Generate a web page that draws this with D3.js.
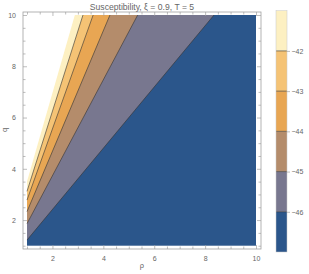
<!DOCTYPE html>
<html>
<head>
<meta charset="utf-8">
<script src="https://cdn.jsdelivr.net/npm/d3@7"></script>
<style>
  body { margin: 0; background: #fff; }
  text { font-family: "Liberation Sans", Arial, sans-serif; fill: #666; }
</style>
</head>
<body>
<div id="chart"></div>
<script>
// ---------- data ----------
var titleText = "Susceptibility, \u03BE = 0.9, T = 5";
var xLabel = "\u03C1";
var yLabel = "q";

// contour levels and where each boundary meets the left edge (p = 1) and the top edge (q = 10)
var levels = [-46, -45, -44, -43, -42, -41];
var qAtLeft = [1.22, 1.86, 2.33, 2.78, 3.12, 3.5];
var pAtTop = [8.35, 5.35, 4.26, 3.6, 3.2, 2.88];

// band colours from lowest value up; last one is the region above the top level
var bandColors = ["#2b568b", "#78778f", "#b48c6b", "#e8a653", "#f5c375", "#fdf0c2", "#ffffff"];
var colorbarEdges = [-47, -46, -45, -44, -43, -42, -41];

var majorTicks = [2, 4, 6, 8, 10];
var minorTicks = [1, 1.5, 2.5, 3, 3.5, 4.5, 5, 5.5, 6.5, 7, 7.5, 8.5, 9, 9.5];
var colorbarTicks = [-46, -45, -44, -43, -42];

// ---------- layout ----------
var svgWidth = 309, svgHeight = 274;
var frame = { left: 23, right: 261, top: 12, bottom: 249 };

var svg = d3.select("#chart").append("svg")
    .attr("width", svgWidth)
    .attr("height", svgHeight);

var x = d3.scaleLinear().domain([1, 10]).range([27, 256]);
var y = d3.scaleLinear().domain([1, 10]).range([245.7, 15]);

// ---------- contour bands ----------
var plot = svg.append("g");

plot.append("rect")
    .attr("x", x(1)).attr("y", y(10))
    .attr("width", x(10) - x(1)).attr("height", y(1) - y(10))
    .attr("fill", bandColors[0]);

var line = d3.line().x(d => x(d[0])).y(d => y(d[1]));

levels.forEach(function(lv, i) {
    var pts = [[1, qAtLeft[i]], [pAtTop[i], 10], [1, 10]];
    plot.append("path")
        .attr("d", line(pts) + "Z")
        .attr("fill", bandColors[i + 1]);
});

// contour lines (not on the outer white edge)
levels.slice(0, 5).forEach(function(lv, i) {
    plot.append("path")
        .attr("d", line([[1, qAtLeft[i]], [pAtTop[i], 10]]))
        .attr("fill", "none")
        .attr("stroke", "#333")
        .attr("stroke-opacity", 0.75)
        .attr("stroke-width", 0.8);
});

// ---------- frame and ticks ----------
svg.append("rect")
    .attr("x", frame.left).attr("y", frame.top)
    .attr("width", frame.right - frame.left).attr("height", frame.bottom - frame.top)
    .attr("fill", "none").attr("stroke", "#a0a0a0").attr("stroke-width", 0.8);

function styleAxis(g) {
    g.select(".domain").remove();
    g.selectAll("line").attr("stroke", "#a0a0a0").attr("stroke-width", 0.7);
    g.selectAll("text").attr("font-size", 7).attr("fill", "#7a7a7a").attr("font-family", "Liberation Sans, Arial, sans-serif");
}

svg.append("g").attr("transform", `translate(0,${frame.bottom})`)
    .call(d3.axisBottom(x).tickValues(majorTicks).tickSize(-4).tickPadding(7).tickFormat(d3.format("d")))
    .call(styleAxis);
svg.append("g").attr("transform", `translate(0,${frame.bottom})`)
    .call(d3.axisBottom(x).tickValues(minorTicks).tickSize(-2.5).tickFormat(""))
    .call(styleAxis);
svg.append("g").attr("transform", `translate(0,${frame.top})`)
    .call(d3.axisTop(x).tickValues(majorTicks).tickSize(-4).tickFormat(""))
    .call(styleAxis);
svg.append("g").attr("transform", `translate(0,${frame.top})`)
    .call(d3.axisTop(x).tickValues(minorTicks).tickSize(-2.5).tickFormat(""))
    .call(styleAxis);

svg.append("g").attr("transform", `translate(${frame.left},0)`)
    .call(d3.axisLeft(y).tickValues(majorTicks).tickSize(-4).tickPadding(7).tickFormat(d3.format("d")))
    .call(styleAxis);
svg.append("g").attr("transform", `translate(${frame.left},0)`)
    .call(d3.axisLeft(y).tickValues(minorTicks).tickSize(-2.5).tickFormat(""))
    .call(styleAxis);
svg.append("g").attr("transform", `translate(${frame.right},0)`)
    .call(d3.axisRight(y).tickValues(majorTicks).tickSize(-4).tickFormat(""))
    .call(styleAxis);
svg.append("g").attr("transform", `translate(${frame.right},0)`)
    .call(d3.axisRight(y).tickValues(minorTicks).tickSize(-2.5).tickFormat(""))
    .call(styleAxis);

// ---------- labels ----------
svg.append("text")
    .attr("x", (frame.left + frame.right) / 2).attr("y", 9.5)
    .attr("text-anchor", "middle")
    .attr("font-size", 8.6)
    .text(titleText);

svg.append("text")
    .attr("x", (frame.left + frame.right) / 2).attr("y", 268)
    .attr("text-anchor", "middle")
    .attr("font-size", 7.5)
    .attr("fill", "#7a7a7a")
    .text(xLabel);

svg.append("text")
    .attr("transform", "translate(7,130) rotate(-90)")
    .attr("text-anchor", "middle")
    .attr("font-size", 7.5)
    .attr("fill", "#7a7a7a")
    .text(yLabel);

// ---------- colour bar ----------
var cb = { left: 276, width: 11 };
var cbY = d3.scaleLinear().domain([-47, -41]).range([252, 10.7]);

var cbG = svg.append("g");
cbG.selectAll("rect.band")
    .data(d3.pairs(colorbarEdges))
    .enter().append("rect")
    .attr("class", "band")
    .attr("x", cb.left)
    .attr("y", d => cbY(d[1]))
    .attr("width", cb.width)
    .attr("height", d => cbY(d[0]) - cbY(d[1]))
    .attr("fill", (d, i) => bandColors[i]);

cbG.selectAll("line.lev")
    .data(colorbarTicks)
    .enter().append("line")
    .attr("class", "lev")
    .attr("x1", cb.left).attr("x2", cb.left + cb.width)
    .attr("y1", d => cbY(d)).attr("y2", d => cbY(d))
    .attr("stroke", "#333").attr("stroke-opacity", 0.75).attr("stroke-width", 0.8);

cbG.append("rect")
    .attr("x", cb.left).attr("y", cbY(-41))
    .attr("width", cb.width).attr("height", cbY(-47) - cbY(-41))
    .attr("fill", "none").attr("stroke", "#c8c8c8").attr("stroke-width", 0.5);

svg.append("g").attr("transform", `translate(${cb.left + cb.width},0)`)
    .call(d3.axisRight(cbY).tickValues(colorbarTicks).tickSize(3).tickPadding(1.5).tickFormat(d3.format("d")))
    .call(styleAxis);
</script>
</body>
</html>
